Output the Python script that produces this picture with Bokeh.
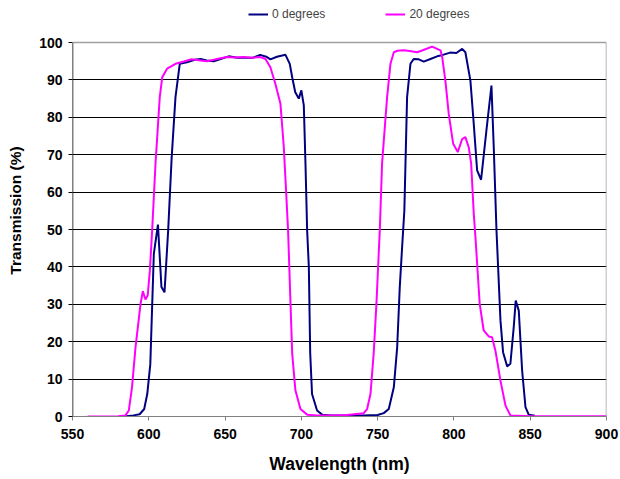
from bokeh.plotting import figure
from bokeh.models import Legend, LegendItem, FixedTicker, Range1d, Span
from bokeh.embed import file_html
from bokeh.resources import INLINE

# 0 degrees (navy)
x0 = [585, 590, 594, 597, 599, 600, 601, 603.3, 606, 608.3, 610.3, 612.7, 615, 617.5, 620.3,
      625, 630, 634, 638, 642.6, 647, 652.4, 658, 664.5, 668, 673, 677, 679.7, 684, 689.6,
      692.4, 694, 696, 698.3, 700, 701.6, 702.7, 703.8, 704.9, 705.8, 707, 710.3, 713.6, 720,
      730, 740, 750, 754, 757.3, 760.6, 762.8, 764.5, 766, 767.5, 769.3, 771.5, 773.6, 777,
      780.2, 784.6, 789, 791.2, 797.5, 801.6, 805.4, 807.5, 810.8, 813, 815.2, 817.8, 821.3,
      824.6, 826.1, 827.9, 830.5, 832.2, 834.9, 837, 839.2, 840.5, 842.5, 844.7, 846.9, 849, 853]
y0 = [0.1, 0.3, 0.6, 2, 6, 10, 14, 43.5, 51.3, 34.6, 33.2, 49.7, 69.3, 85.4, 94.3,
      94.7, 95.4, 95.6, 95.2, 95.0, 95.6, 96.3, 95.9, 95.9, 95.9, 96.7, 96.2, 95.5, 96.2, 96.7,
      94.3, 90.7, 86.7, 85.0, 87.2, 83.2, 67.6, 49.7, 40, 17, 6, 1.6, 0.5, 0.3,
      0.3, 0.3, 0.4, 0.9, 2, 7.8, 18.5, 34.6, 45, 55, 85.4, 94.3, 95.6, 95.5,
      94.9, 95.6, 96.3, 96.5, 97.3, 97.2, 98.3, 97.4, 89.8, 78.2, 65.8, 63.3, 76.5,
      88.5, 72, 49.7, 25.7, 17.2, 13.4, 14.1, 23.9, 31, 28.3, 12.3, 2.5, 0.5, 0.2]

# 20 degrees (magenta)
x20 = [560, 570, 580, 584.7, 586.9, 589, 591.3, 594.6, 596.1, 597.8, 599.3, 600.7, 602.2, 604.4,
       607.2, 608.8, 612, 617.5, 623, 628, 634, 638, 642.6, 647, 651.4, 656, 662.3, 667, 673.2,
       676.5, 679.7, 683, 686.3, 688.5, 690.2, 691.3, 692.9, 694, 696.1, 699.4, 703.8, 710, 720,
       730, 740.9, 743.1, 745.3, 747.4, 749.2, 750.7, 751.4, 752.9, 756.2, 758.4, 760.6, 763,
       767.1, 771, 775.9, 780, 785.7, 789, 791.2, 792.3, 794.4, 796.6, 799.5, 802.5, 805.4,
       807.5, 809.7, 811.3, 813, 814.1, 816.9, 819.5, 822.8, 825, 827.2, 830.5, 833.8, 837, 850, 900]
y20 = [0, 0, 0.1, 0.3, 1.6, 7.8, 18.5, 30.1, 33.5, 31.3, 32.4, 39, 49.7, 67.6,
       85.4, 90.7, 93, 94.3, 94.9, 95.5, 95.2, 95.0, 95.4, 95.8, 96.1, 96.0, 96.1, 95.9, 96.1,
       95.6, 93.4, 88.9, 83.6, 72, 58.6, 49.7, 30.1, 16.8, 7, 2, 0.5, 0.3, 0.3,
       0.4, 0.9, 2, 6, 16.8, 30.1, 43.5, 49.7, 67.6, 85.4, 94.3, 97.4, 97.8,
       97.9, 97.7, 97.4, 98, 98.9, 98.3, 97.9, 96.1, 89.8, 80.9, 72.9, 70.7, 74.2,
       74.7, 72, 67.6, 54.2, 48, 30.1, 23, 21.4, 21.2, 17.6, 9.6, 2.9, 0.3, 0.1, 0.1]

x_ticks = [550, 600, 650, 700, 750, 800, 850, 900]
y_ticks = [0, 10, 20, 30, 40, 50, 60, 70, 80, 90, 100]

FONT = "Liberation Sans"
XMIN, XMAX = x_ticks[0], x_ticks[-1]
YMAX = y_ticks[-1]

# frame runs from y=4 to y=416 px; 100 % sits at y=42 px (room for the legend inside frame)
p = figure(width=620, height=479, output_backend="svg", toolbar_location=None,
           x_range=Range1d(XMIN, XMAX), y_range=Range1d(0, YMAX * 412 / 374),
           min_border_left=72, min_border_right=14, min_border_top=4, min_border_bottom=63)
p.background_fill_color = "white"
p.border_fill_color = "white"
p.outline_line_color = None

p.xgrid.grid_line_color = None
p.ygrid.grid_line_color = "black"
p.ygrid.grid_line_width = 1
p.ygrid.ticker = FixedTicker(ticks=y_ticks[1:-1])

p.xaxis.ticker = FixedTicker(ticks=x_ticks)
p.yaxis.ticker = FixedTicker(ticks=y_ticks)
for ax in (p.xaxis, p.yaxis):
    ax.major_label_text_font = FONT
    ax.major_label_text_font_style = "bold"
    ax.major_label_text_font_size = "14px"
    ax.major_label_text_color = "black"
    ax.axis_label_text_font = FONT
    ax.axis_label_text_font_style = "bold"
    ax.axis_label_text_color = "black"
    ax.major_tick_in = 0
    ax.major_tick_out = 4
    ax.minor_tick_in = 0
    ax.minor_tick_out = 0

p.xaxis.axis_line_color = "#808080"
p.xaxis.major_tick_line_color = "#808080"
p.yaxis.axis_line_color = None
p.yaxis.major_tick_line_color = "black"
p.xaxis.axis_label = "Wavelength (nm)"
p.yaxis.axis_label = "Transmission (%)"
p.xaxis.axis_label_text_font_size = "17.5px"
p.yaxis.axis_label_text_font_size = "15.5px"
p.xaxis.major_label_standoff = 8
p.yaxis.major_label_standoff = 6
p.xaxis.axis_label_standoff = 12
p.yaxis.axis_label_standoff = 12

# plot-area border: grey top and right, black left axis line
p.add_layout(Span(location=YMAX, dimension="width", line_color="#a0a0a0", line_width=1.5))
p.segment(x0=[XMAX], y0=[0], x1=[XMAX], y1=[YMAX], line_color="#a0a0a0", line_width=1.5)
p.segment(x0=[XMIN], y0=[0], x1=[XMIN], y1=[YMAX], line_color="black", line_width=1.5)

r0 = p.line(x0, y0, line_color="#000080", line_width=2)
r20 = p.line(x20, y20, line_color="#ff00ff", line_width=2)

legend = Legend(items=[LegendItem(label="0 degrees", renderers=[r0]),
                       LegendItem(label="20 degrees", renderers=[r20])],
                orientation="horizontal", location=(176, 395),
                background_fill_alpha=0, border_line_color=None,
                padding=0, margin=0, spacing=60, label_standoff=4,
                glyph_width=20, glyph_height=14, label_height=14,
                label_text_font=FONT, label_text_font_size="12px")
p.add_layout(legend, "center")

open("out.html", "w").write(file_html(p, INLINE))
